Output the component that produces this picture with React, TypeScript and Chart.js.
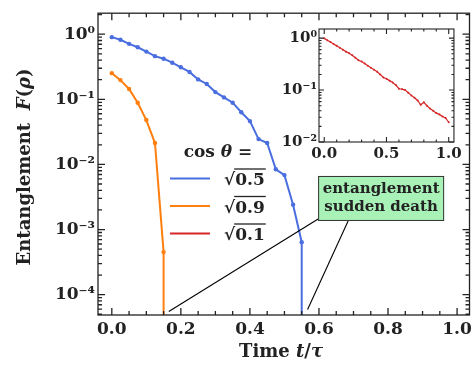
import React, { useEffect, useRef } from 'react';
import { Chart, registerables } from 'chart.js';

Chart.register(...registerables);

const FONT = "'DejaVu Serif', serif";

// ---- data ----
const tBlue = [0, 0.025, 0.05, 0.075, 0.1, 0.125, 0.15, 0.175, 0.2, 0.225, 0.25, 0.275, 0.3, 0.325, 0.35, 0.375, 0.4, 0.425, 0.45, 0.475, 0.5, 0.525, 0.55, 0.55];
const fBlue = [0.9, 0.82, 0.71, 0.63, 0.54, 0.46, 0.42, 0.365, 0.31, 0.263, 0.202, 0.172, 0.129, 0.107, 0.0887, 0.0633, 0.0463, 0.0245, 0.0213, 0.00843, 0.00685, 0.00241, 0.00064, 0];
const tOrange = [0, 0.025, 0.05, 0.075, 0.1, 0.125, 0.15, 0.15];
const fOrange = [0.252, 0.197, 0.144, 0.0887, 0.048, 0.0213, 0.00045, 0];
const tRed = [0, 0.025, 0.05, 0.075, 0.1, 0.125, 0.15, 0.175, 0.2, 0.225, 0.25, 0.275, 0.3, 0.325, 0.35, 0.375, 0.4, 0.425, 0.45, 0.475, 0.5, 0.525, 0.55, 0.575, 0.6, 0.625, 0.65, 0.675, 0.7, 0.725, 0.75, 0.775, 0.8, 0.825, 0.85, 0.875, 0.9, 0.925, 0.95, 0.975, 1.0];
const fRed = [0.99, 0.91, 0.84, 0.77, 0.71, 0.65, 0.6, 0.55, 0.51, 0.47, 0.42, 0.375, 0.355, 0.325, 0.295, 0.27, 0.245, 0.225, 0.2, 0.175, 0.165, 0.152, 0.14, 0.125, 0.106, 0.104, 0.1, 0.089, 0.079, 0.071, 0.063, 0.052, 0.058, 0.05, 0.044, 0.04, 0.036, 0.034, 0.031, 0.029, 0.024];

const seriesLabels = ['0.5', '0.9', '0.1'];
const seriesColors = ['#4a6ee0', '#ff7f0e', '#d62728'];
const xTicksMain = [0, 0.2, 0.4, 0.6, 0.8, 1.0];
const yTicksMain = [1e-4, 1e-3, 1e-2, 1e-1, 1];
const xTicksInset = [0, 0.5, 1.0];
const yTicksInset = [1e-2, 1e-1, 1];
const annotationLines = ['entanglement', 'sudden death'];
const annotationTargets = [[0.165, 5.5e-5], [0.567, 5.9e-5]];
const annotationCenter = [0.78, 0.003];

const FLOOR = 1e-12; // zero (sudden death) shown at the bottom of the log axis

const SUP: Record<string, string> = { '0': '⁰', '1': '¹', '2': '²', '3': '³', '4': '⁴', '5': '⁵', '6': '⁶', '7': '⁷', '8': '⁸', '9': '⁹', '-': '⁻' };
const powLabel = (v: number) => '10' + String(Math.round(Math.log10(v))).split('').map((c) => SUP[c]).join('');

const mkData = (t: number[], f: number[]) => t.map((x, i) => ({ x, y: f[i] > 0 ? f[i] : FLOOR }));

const font = (size: number, italic = false) => `${italic ? 'italic ' : ''}bold ${size}px ${FONT}`;

type Run = { text: string; italic?: boolean };
function drawRuns(ctx: CanvasRenderingContext2D, runs: Run[], x: number, y: number, size: number, align: 'center' | 'left') {
  let total = 0;
  const widths = runs.map((r) => {
    ctx.font = font(size, r.italic);
    const w = ctx.measureText(r.text).width;
    total += w;
    return w;
  });
  let cx = align === 'center' ? x - total / 2 : x;
  ctx.textAlign = 'left';
  runs.forEach((r, i) => {
    ctx.font = font(size, r.italic);
    ctx.fillText(r.text, cx, y);
    cx += widths[i];
  });
}

function minorLog(min: number, max: number) {
  const out: number[] = [];
  for (let d = Math.floor(Math.log10(min)); d <= Math.ceil(Math.log10(max)); d++) {
    for (let k = 2; k <= 9; k++) {
      const v = k * Math.pow(10, d);
      if (v > min && v < max) out.push(v);
    }
  }
  return out;
}

function drawFrame(chart: any, o: { major: number; minor: number; lw: number; xMajor: number[]; xMinorStep: number; yMajor: number[] }) {
  const { ctx, chartArea: a, scales } = chart;
  const xs = scales.x, ys = scales.y;
  ctx.save();
  ctx.strokeStyle = '#222';
  ctx.lineWidth = o.lw;
  ctx.beginPath();
  const xt = (v: number, len: number) => {
    const p = xs.getPixelForValue(v);
    if (p < a.left || p > a.right) return;
    ctx.moveTo(p, a.bottom); ctx.lineTo(p, a.bottom - len);
    ctx.moveTo(p, a.top); ctx.lineTo(p, a.top + len);
  };
  const yt = (v: number, len: number) => {
    const p = ys.getPixelForValue(v);
    if (p < a.top || p > a.bottom) return;
    ctx.moveTo(a.left, p); ctx.lineTo(a.left + len, p);
    ctx.moveTo(a.right, p); ctx.lineTo(a.right - len, p);
  };
  o.xMajor.forEach((v) => xt(v, o.major));
  const n = Math.round(1 / o.xMinorStep);
  for (let i = 0; i <= n; i++) {
    const v = i * o.xMinorStep;
    if (!o.xMajor.some((m) => Math.abs(m - v) < 1e-9)) xt(v, o.minor);
  }
  o.yMajor.forEach((v) => yt(v, o.major));
  minorLog(ys.min, ys.max).forEach((v) => yt(v, o.minor));
  ctx.stroke();
  ctx.strokeRect(a.left, a.top, a.right - a.left, a.bottom - a.top);
  ctx.restore();
}

const mainDecor = {
  id: 'mainDecor',
  afterDatasetsDraw(chart: any) {
    const { ctx, scales } = chart;
    const xs = scales.x, ys = scales.y;
    drawFrame(chart, { major: 7, minor: 4, lw: 1.3, xMajor: xTicksMain, xMinorStep: 0.05, yMajor: yTicksMain });

    ctx.save();
    ctx.fillStyle = '#222';
    ctx.textBaseline = 'middle';
    // axis titles
    drawRuns(ctx, [{ text: 'Time ' }, { text: 't', italic: true }, { text: '/' }, { text: 'τ', italic: true }], 281, 352, 18, 'center');
    ctx.save();
    ctx.translate(25, 167);
    ctx.rotate(-Math.PI / 2);
    drawRuns(ctx, [{ text: 'Entanglement  ' }, { text: 'F', italic: true }, { text: '(' }, { text: 'ρ', italic: true }, { text: ')' }], 0, 0, 18, 'center');
    ctx.restore();

    // legend
    drawRuns(ctx, [{ text: 'cos ' }, { text: 'θ', italic: true }, { text: ' =' }], 218, 153, 17, 'center');
    ctx.textBaseline = 'alphabetic';
    seriesLabels.forEach((lab, i) => {
      const ly = 178.5 + i * 27.5;
      ctx.strokeStyle = seriesColors[i];
      ctx.lineWidth = 2.2;
      ctx.beginPath();
      ctx.moveTo(170, ly); ctx.lineTo(210, ly);
      ctx.stroke();
      ctx.font = font(17);
      ctx.textAlign = 'left';
      ctx.fillStyle = '#222';
      const base = ly + 6.5;
      ctx.fillText('√', 224, base);
      const rw = ctx.measureText('√').width;
      ctx.fillText(lab, 224 + rw, base);
      const lw = ctx.measureText(lab).width;
      ctx.strokeStyle = '#222';
      ctx.lineWidth = 1.3;
      ctx.beginPath();
      ctx.moveTo(224 + rw - 1, base - 16);
      ctx.lineTo(224 + rw + lw + 1, base - 16);
      ctx.stroke();
    });

    // annotation
    const cx = xs.getPixelForValue(annotationCenter[0]);
    const cy = ys.getPixelForValue(annotationCenter[1]);
    const bw = 126, bh = 45;
    const bx = cx - bw / 2, by = cy - bh / 2;
    const starts = [[bx, by + bh - 2], [bx + 30, by + bh]];
    ctx.strokeStyle = '#000';
    ctx.lineWidth = 1.1;
    annotationTargets.forEach((tg, i) => {
      ctx.beginPath();
      ctx.moveTo(starts[i][0], starts[i][1]);
      ctx.lineTo(xs.getPixelForValue(tg[0]), ys.getPixelForValue(tg[1]));
      ctx.stroke();
    });
    ctx.fillStyle = '#a8f2b8';
    ctx.fillRect(bx, by, bw, bh);
    ctx.strokeStyle = '#333';
    ctx.lineWidth = 1;
    ctx.strokeRect(bx + 0.5, by + 0.5, bw - 1, bh - 1);
    ctx.fillStyle = '#222';
    ctx.textBaseline = 'middle';
    ctx.font = font(15);
    ctx.textAlign = 'center';
    annotationLines.forEach((s, i) => ctx.fillText(s, cx, cy - 9 + i * 18));
    ctx.restore();
  },
};

const insetDecor = {
  id: 'insetDecor',
  beforeDatasetsDraw(chart: any) {
    const { ctx, chartArea: a } = chart;
    ctx.save();
    ctx.fillStyle = '#fff';
    ctx.fillRect(a.left, a.top, a.right - a.left, a.bottom - a.top);
    ctx.restore();
  },
  afterDatasetsDraw(chart: any) {
    drawFrame(chart, { major: 5, minor: 2.5, lw: 1.1, xMajor: xTicksInset, xMinorStep: 0.1, yMajor: yTicksInset });
  },
};

const tickFont = (size: number) => ({ family: FONT, size, weight: 'bold' as const });

function lineDs(label: string, data: any[], color: string, width: number, radius: number) {
  return {
    label,
    data,
    borderColor: color,
    backgroundColor: color,
    borderWidth: width,
    pointRadius: (c: any) => (c.raw && c.raw.y > FLOOR ? radius : 0),
    pointBorderWidth: 0,
    pointBackgroundColor: color,
    tension: 0,
    fill: false,
  };
}

export default function App() {
  const mainRef = useRef<HTMLCanvasElement>(null);
  const insetRef = useRef<HTMLCanvasElement>(null);

  useEffect(() => {
    const main = new Chart(mainRef.current as HTMLCanvasElement, {
      type: 'line',
      data: {
        datasets: [
          lineDs('√0.5', mkData(tBlue, fBlue), seriesColors[0], 2, 2.2),
          lineDs('√0.9', mkData(tOrange, fOrange), seriesColors[1], 2, 2.2),
        ],
      },
      options: {
        responsive: false,
        animation: false,
        devicePixelRatio: 1,
        layout: { padding: { top: 8, right: 4, left: 0, bottom: 0 } },
        plugins: { legend: { display: false }, tooltip: { enabled: false } },
        scales: {
          x: {
            type: 'linear',
            min: -0.04,
            max: 1.036,
            grid: { display: false, drawTicks: false },
            border: { display: false },
            afterBuildTicks: (s: any) => { s.ticks = xTicksMain.map((v) => ({ value: v })); },
            afterFit: (s: any) => { s.height = 50; },
            ticks: { font: tickFont(17), color: '#222', padding: 4, autoSkip: false, maxRotation: 0, callback: (v: any) => Number(v).toFixed(1) },
          },
          y: {
            type: 'logarithmic',
            min: 4.87e-5,
            max: 2.1,
            grid: { display: false, drawTicks: false },
            border: { display: false },
            afterBuildTicks: (s: any) => { s.ticks = yTicksMain.map((v) => ({ value: v, major: true })); },
            afterFit: (s: any) => { s.width = 98; },
            ticks: { font: tickFont(17), color: '#222', padding: 3, autoSkip: false, callback: (v: any) => powLabel(Number(v)) },
          },
        },
      } as any,
      plugins: [mainDecor],
    });

    const inset = new Chart(insetRef.current as HTMLCanvasElement, {
      type: 'line',
      data: {
        datasets: [lineDs('√0.1', mkData(tRed, fRed), seriesColors[2], 1.2, 1)],
      },
      options: {
        responsive: false,
        animation: false,
        devicePixelRatio: 1,
        layout: { padding: { top: 10, right: 6, left: 0, bottom: 0 } },
        plugins: { legend: { display: false }, tooltip: { enabled: false } },
        scales: {
          x: {
            type: 'linear',
            min: -0.042,
            max: 1.042,
            grid: { display: false, drawTicks: false },
            border: { display: false },
            afterBuildTicks: (s: any) => { s.ticks = xTicksInset.map((v) => ({ value: v })); },
            afterFit: (s: any) => { s.height = 26; },
            ticks: { font: tickFont(15), color: '#222', padding: 3, autoSkip: false, maxRotation: 0, callback: (v: any) => Number(v).toFixed(1) },
          },
          y: {
            type: 'logarithmic',
            min: 0.01,
            max: 1.5,
            grid: { display: false, drawTicks: false },
            border: { display: false },
            afterBuildTicks: (s: any) => { s.ticks = yTicksInset.map((v) => ({ value: v, major: true })); },
            afterFit: (s: any) => { s.width = 49; },
            ticks: { font: tickFont(15), color: '#222', padding: 2, autoSkip: false, callback: (v: any) => powLabel(Number(v)) },
          },
        },
      } as any,
      plugins: [insetDecor],
    });

    return () => {
      main.destroy();
      inset.destroy();
    };
  }, []);

  return (
    <div style={{ position: 'fixed', left: 0, top: 0, width: 476, height: 365, background: '#fff', overflow: 'hidden' }}>
      <canvas ref={mainRef} width={476} height={365} style={{ position: 'absolute', left: 0, top: 0 }} />
      <canvas ref={insetRef} width={195} height={150} style={{ position: 'absolute', left: 270, top: 18 }} />
    </div>
  );
}
